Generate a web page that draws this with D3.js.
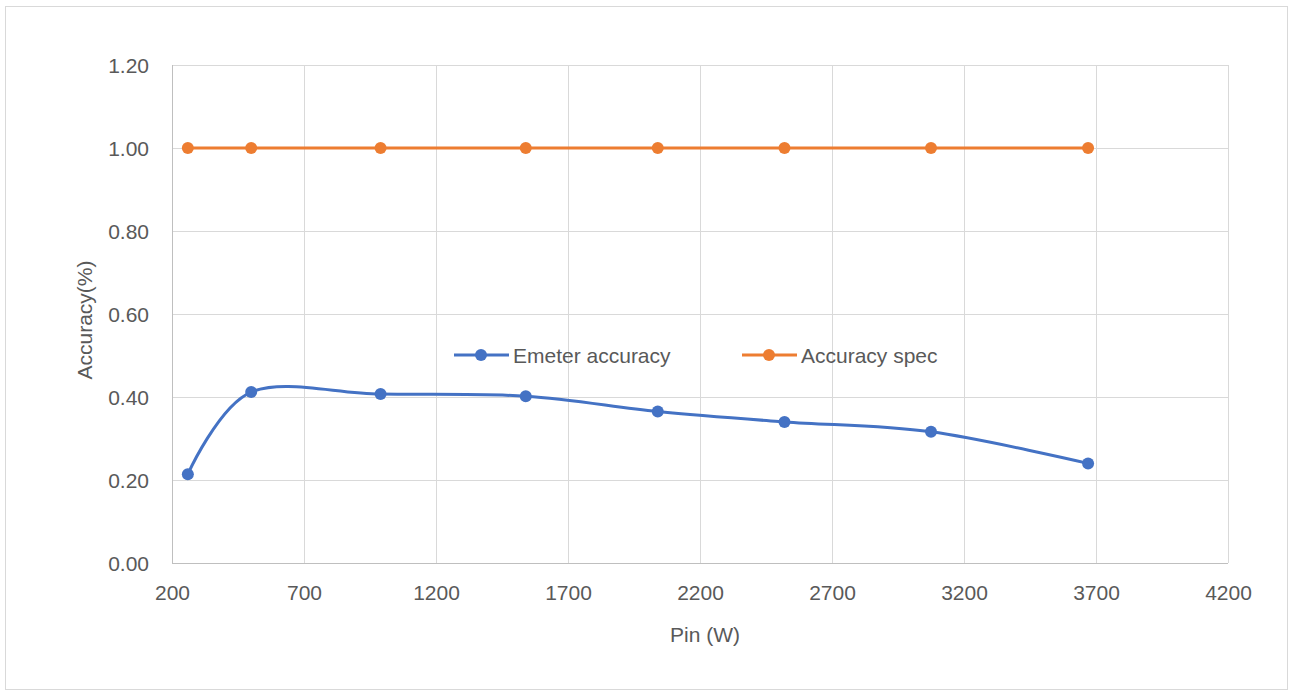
<!DOCTYPE html>
<html>
<head>
<meta charset="utf-8">
<script src="https://cdn.jsdelivr.net/npm/d3@7"></script>
<style>
  html, body { margin: 0; padding: 0; background: #fff; }
  svg { display: block; font-family: "Liberation Sans", Arial, sans-serif; }
</style>
</head>
<body>
<svg id="chart" width="1291" height="693"></svg>
<script>
// Input power (W) for each measurement
const pinW = [260, 500, 990, 1540, 2040, 2520, 3075, 3670];
// Measured energy-meter accuracy (%)
const emeterAccuracy = [0.214, 0.412, 0.407, 0.402, 0.365, 0.340, 0.316, 0.240];
// Specification limit (%)
const accuracySpec = [1.0, 1.0, 1.0, 1.0, 1.0, 1.0, 1.0, 1.0];
// Axis ticks
const xTicks = [200, 700, 1200, 1700, 2200, 2700, 3200, 3700, 4200];
const yTicks = [0, 0.2, 0.4, 0.6, 0.8, 1.0, 1.2];

const seriesNames = ["Emeter accuracy", "Accuracy spec"];
const seriesColors = ["#4472C4", "#ED7D31"];

const FONT = 21;
const TEXT = "#595959";

const svg = d3.select("#chart");
const plot = { left: 172, top: 65, right: 1228, bottom: 563 };

// outer chart frame
svg.append("rect")
  .attr("x", 5.5).attr("y", 6.5)
  .attr("width", 1282).attr("height", 683)
  .attr("fill", "#fff").attr("stroke", "#d9d9d9").attr("stroke-width", 1);

const x = d3.scaleLinear().domain([200, 4200]).range([plot.left, plot.right]);
const y = d3.scaleLinear().domain([0, 1.2]).range([plot.bottom, plot.top]);

const grid = svg.append("g");
// vertical gridlines
grid.selectAll("line.vx").data(xTicks).join("line")
  .attr("x1", d => Math.round(x(d)) + 0.5).attr("x2", d => Math.round(x(d)) + 0.5)
  .attr("y1", plot.top).attr("y2", plot.bottom)
  .attr("stroke", "#d9d9d9").attr("stroke-width", 1);
// horizontal gridlines
grid.selectAll("line.hy").data(yTicks).join("line")
  .attr("x1", plot.left).attr("x2", plot.right)
  .attr("y1", d => Math.round(y(d)) + 0.5).attr("y2", d => Math.round(y(d)) + 0.5)
  .attr("stroke", "#d9d9d9").attr("stroke-width", 1);

// axis lines
svg.append("line")
  .attr("x1", plot.left + 0.5).attr("x2", plot.left + 0.5)
  .attr("y1", plot.top).attr("y2", plot.bottom)
  .attr("stroke", "#bfbfbf");
svg.append("line")
  .attr("x1", plot.left).attr("x2", plot.right)
  .attr("y1", plot.bottom + 0.5).attr("y2", plot.bottom + 0.5)
  .attr("stroke", "#bfbfbf");

// tick labels
const xAxis = d3.axisBottom(x).tickValues(xTicks).tickSize(0).tickPadding(0).tickFormat(d3.format("d"));
const gx = svg.append("g").attr("transform", `translate(0,${plot.bottom + 30})`).call(xAxis);
gx.select(".domain").remove();
gx.selectAll("text").attr("fill", TEXT).attr("font-size", FONT)
  .attr("font-family", "'Liberation Sans', Arial, sans-serif").attr("dy", "0.35em");

const yAxis = d3.axisLeft(y).tickValues(yTicks).tickSize(0).tickPadding(0).tickFormat(d3.format(".2f"));
const gy = svg.append("g").attr("transform", `translate(${plot.left - 23},0)`).call(yAxis);
gy.select(".domain").remove();
gy.selectAll("text").attr("fill", TEXT).attr("font-size", FONT)
  .attr("font-family", "'Liberation Sans', Arial, sans-serif").attr("dy", "0.35em");

// axis titles
svg.append("text")
  .attr("x", 705).attr("y", 635).attr("dy", "0.35em")
  .attr("text-anchor", "middle").attr("fill", TEXT).attr("font-size", FONT)
  .text("Pin (W)");
svg.append("text")
  .attr("transform", `translate(85,320) rotate(-90)`)
  .attr("dy", "0.35em")
  .attr("text-anchor", "middle").attr("fill", TEXT).attr("font-size", FONT)
  .text("Accuracy(%)");

// series
const series = [emeterAccuracy, accuracySpec];
const curves = [d3.curveCatmullRom.alpha(0), d3.curveLinear];

series.forEach((vals, i) => {
  const pts = pinW.map((p, k) => [p, vals[k]]);
  const line = d3.line().x(d => x(d[0])).y(d => y(d[1])).curve(curves[i]);
  svg.append("path").datum(pts)
    .attr("d", line).attr("fill", "none")
    .attr("stroke", seriesColors[i]).attr("stroke-width", 3)
    .attr("stroke-linecap", "round");
  svg.append("g").selectAll("circle").data(pts).join("circle")
    .attr("cx", d => x(d[0])).attr("cy", d => y(d[1])).attr("r", 6)
    .attr("fill", seriesColors[i]);
});

// legend
const legendItems = [
  { x: 454, name: seriesNames[0], color: seriesColors[0] },
  { x: 742, name: seriesNames[1], color: seriesColors[1] }
];
const lg = svg.append("g");
legendItems.forEach(it => {
  const ly = 355;
  lg.append("line").attr("x1", it.x).attr("x2", it.x + 55)
    .attr("y1", ly).attr("y2", ly)
    .attr("stroke", it.color).attr("stroke-width", 3);
  lg.append("circle").attr("cx", it.x + 27).attr("cy", ly).attr("r", 6).attr("fill", it.color);
  lg.append("text").attr("x", it.x + 59).attr("y", ly + 1).attr("dy", "0.35em")
    .attr("fill", TEXT).attr("font-size", FONT).text(it.name);
});
</script>
</body>
</html>
